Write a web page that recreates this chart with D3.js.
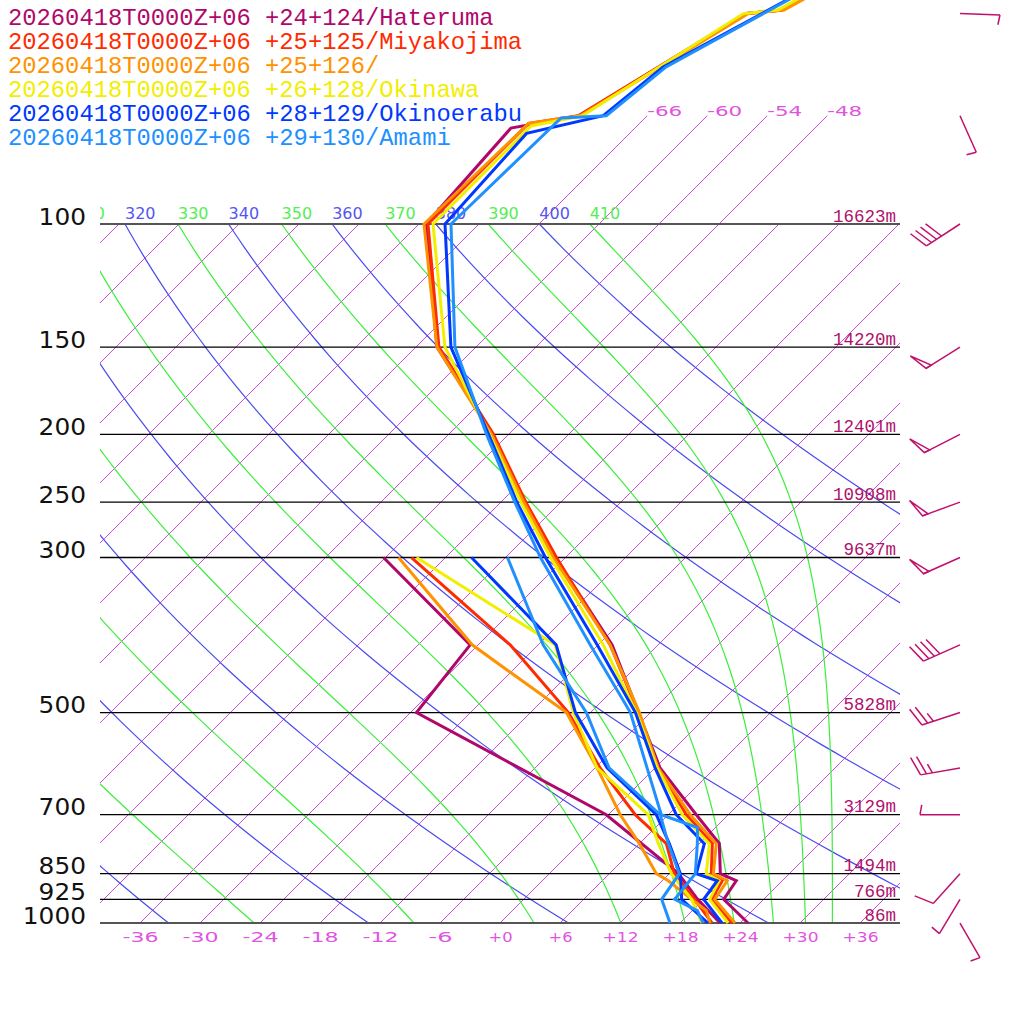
<!DOCTYPE html>
<html>
<head>
<meta charset="utf-8">
<script src="https://cdn.jsdelivr.net/npm/d3@7"></script>
<style>
  body { margin: 0; background: #fff; }
  svg { display: block; background: #fff; }
</style>
</head>
<body>
<svg id="chart" width="1024" height="1024"></svg>
<script>
// legend text, one line per station
const stationNames = [
  "20260418T0000Z+06 +24+124/Hateruma",
  "20260418T0000Z+06 +25+125/Miyakojima",
  "20260418T0000Z+06 +25+126/",
  "20260418T0000Z+06 +26+128/Okinawa",
  "20260418T0000Z+06 +28+129/Okinoerabu",
  "20260418T0000Z+06 +29+130/Amami"
];

// temperature profiles: pressure (hPa) and temperature (degC)
const hatP = [1000, 925, 870, 850, 770, 700, 600, 500, 400, 300, 250, 200, 150, 100, 72.9, 70, 50, 49.4, 30];
const hatT = [24.8, 20.0, 19.4, 17.1, 14.0, 8.8, 0.5, -7.2, -16.6, -31.0, -39.8, -49.6, -63.9, -77.3, -78.4, -72.8, -66.3, -63.1, -50.6];
const miyP = [1000, 925, 870, 850, 770, 700, 600, 500, 400, 300, 250, 200, 150, 100, 71.8, 70, 50, 49.4, 30];
const miyT = [23.2, 18.8, 18.0, 16.2, 13.3, 7.8, 0.3, -7.2, -16.8, -30.9, -39.5, -49.5, -63.7, -77.1, -77.1, -72.9, -66.3, -63.1, -50.6];
const s126P = [1000, 925, 870, 850, 770, 700, 600, 500, 400, 300, 250, 200, 150, 100, 71.8, 70, 50, 49.4, 30];
const s126T = [23.5, 19.1, 18.5, 16.4, 13.7, 8.2, 0.3, -7.1, -16.8, -31.2, -39.7, -49.7, -63.9, -77.5, -77.1, -72.7, -66.1, -62.9, -50.4];
const okiP = [1000, 925, 870, 850, 770, 700, 600, 500, 400, 300, 250, 200, 150, 100, 72.4, 70, 50, 49.4, 30];
const okiT = [22.8, 18.6, 17.7, 15.7, 13.0, 7.4, 0.2, -7.4, -17.5, -31.5, -40.0, -49.9, -63.1, -76.6, -76.6, -72.5, -66.6, -63.5, -51.0];
const oerP = [1000, 925, 870, 850, 770, 700, 600, 500, 400, 300, 250, 200, 150, 100, 74.2, 70, 59.6, 30];
const oerT = [22.2, 18.0, 17.5, 14.7, 12.5, 6.8, 0.0, -7.5, -18.1, -32.0, -40.4, -50.0, -62.5, -75.4, -76.3, -70.4, -69.3, -51.6];
const amaP = [1000, 960, 925, 850, 770, 730, 700, 600, 500, 400, 300, 250, 200, 150, 100, 70.5, 70, 59.6, 30];
const amaT = [20.3, 18.5, 15.1, 14.6, 11.8, 10.2, 5.3, -0.8, -8.0, -18.8, -32.5, -40.6, -50.2, -62.1, -74.8, -74.4, -70.1, -69.0, -51.8];

// dew point profiles
const hatTdP = [1000, 925, 850, 700, 500, 400, 300];
const hatTd = [22.0, 17.4, 12.9, -0.2, -29.4, -30.8, -48.2];
const miyTdP = [1000, 925, 850, 770, 700, 600, 500, 400, 300];
const miyTd = [21.2, 17.1, 12.5, 8.7, 2.7, -5.5, -14.2, -26.8, -45.4];
const s126TdP = [1000, 960, 925, 870, 850, 770, 700, 600, 500, 400, 300];
const s126Td = [21.0, 19.4, 16.8, 12.6, 10.7, 6.0, 1.2, -5.8, -14.4, -30.6, -46.7];
const okiTdP = [1000, 960, 925, 850, 770, 700, 600, 500, 400, 300];
const okiTd = [20.2, 18.4, 16.8, 12.2, 7.9, 4.0, -5.8, -13.7, -22.3, -44.9];
const oerTdP = [1000, 925, 850, 770, 700, 600, 500, 400, 300];
const oerTd = [20.8, 15.8, 13.1, 9.0, 4.8, -4.8, -13.5, -22.2, -39.4];
const amaTdP = [1000, 925, 850, 770, 700, 600, 500, 400, 300];
const amaTd = [17.0, 13.8, 13.0, 8.9, 5.2, -4.6, -12.4, -23.5, -35.8];

// pressure lines and their heights
const levels = [100, 150, 200, 250, 300, 500, 700, 850, 925, 1000];
const heights = [16623, 14220, 12401, 10908, 9637, 5828, 3129, 1494, 766, 86];

// wind (Hateruma): direction deg, speed kt
const windP = [1000, 925, 850, 700, 600, 500, 400, 300, 250, 200, 150, 100, 70, 50];
const windDir = [150, 211, 222, 270, 260, 252, 246, 246, 250, 243, 238, 237, 156, 92];
const windSpd = [5, 5, 10, 5, 25, 25, 40, 50, 50, 50, 50, 40, 5, 5];

// background lines
const tempTicks = d3.range(-36, 37, 6);
const isotherms = d3.range(-108, 37, 6);
const isoUpper = [-66, -60, -54, -48];
const dryThetas = d3.range(220, 401, 20);
const moistThetas = d3.range(230, 411, 20);

const stationColors = ["#b0086a", "#ff2a00", "#ff9200", "#f2ee00", "#0038ff", "#2090ff"];

const svg = d3.select("#chart");

const y = d3.scaleLog().domain([1000, 100]).range([923, 224]);
const x0 = d3.scaleLinear().domain([-40, 40]).range([100, 900]);
const sx = (t, p) => x0(t) + (y(1000) - y(p));

const pSamples = d3.range(0, 91).map(i => 1000 * Math.pow(0.1, i / 90));

function thetaE(tk, p) {
  const tc = tk - 273.15;
  const es = 6.112 * Math.exp(17.67 * tc / (tc + 243.5));
  if (es > p * 0.6) return Infinity;
  const r = 622 * es / (p - es);
  return tk * Math.pow(1000 / p, 0.2854 * (1 - 0.00028 * r)) *
    Math.exp((3.376 / tk - 0.00254) * r * (1 + 0.00081 * r));
}

function moistT(te, p) {
  let lo = 120, hi = 340;
  for (let k = 0; k < 50; k++) {
    const mid = (lo + hi) / 2;
    if (thetaE(mid, p) > te) hi = mid; else lo = mid;
  }
  return (lo + hi) / 2 - 273.15;
}

const dryT = (th, p) => th * Math.pow(p / 1000, 0.2857) - 273.15;

const defs = svg.append("defs");
defs.append("clipPath").attr("id", "plot")
  .append("rect").attr("x", 100).attr("y", 224).attr("width", 800).attr("height", 699);
defs.append("clipPath").attr("id", "labels")
  .append("rect").attr("x", 100).attr("y", 190).attr("width", 800).attr("height", 40);

const line = d3.line().x(d => sx(d.t, d.p)).y(d => y(d.p));

const bg = svg.append("g").attr("clip-path", "url(#plot)");

// isotherms
bg.selectAll("path.iso")
  .data(isotherms)
  .join("path")
  .attr("class", "iso")
  .attr("d", t => line([{p: 1000, t: t}, {p: 100, t: t}]))
  .attr("fill", "none")
  .attr("stroke", "#d24ee2")
  .attr("stroke-width", 1);

// dry adiabats
bg.selectAll("path.dry")
  .data(dryThetas)
  .join("path")
  .attr("class", "dry")
  .attr("d", th => line(pSamples.map(p => ({p: p, t: dryT(th, p)}))))
  .attr("fill", "none")
  .attr("stroke", "#4a4af0")
  .attr("stroke-width", 1.2);

// moist adiabats
bg.selectAll("path.moist")
  .data(moistThetas)
  .join("path")
  .attr("class", "moist")
  .attr("d", te => line(pSamples.map(p => ({p: p, t: moistT(te, p)}))))
  .attr("fill", "none")
  .attr("stroke", "#3cee3c")
  .attr("stroke-width", 1.2);

// upper isotherms above 100 hPa with labels
svg.selectAll("path.isoup")
  .data(isoUpper)
  .join("path")
  .attr("class", "isoup")
  .attr("d", t => line([{p: 100, t: t}, {p: 70, t: t}]))
  .attr("fill", "none")
  .attr("stroke", "#d24ee2")
  .attr("stroke-width", 1);

svg.selectAll("text.isoup")
  .data(isoUpper)
  .join("text")
  .attr("class", "isoup")
  .attr("x", t => sx(t, 70))
  .attr("y", y(70))
  .attr("font-family", "DejaVu Sans")
  .attr("font-size", 14)
  .attr("fill", "#e055e0")
  .attr("textLength", 35)
  .attr("lengthAdjust", "spacingAndGlyphs")
  .text(t => "-" + Math.abs(t));

// theta labels along 100 hPa (only those that reach the plot)
const lab = svg.append("g").attr("clip-path", "url(#labels)");
lab.selectAll("text.dry")
  .data(dryThetas.filter(th => sx(dryT(th, 100), 100) > 70))
  .join("text")
  .attr("class", "dry")
  .attr("x", th => sx(dryT(th, 100), 100))
  .attr("y", 218.5)
  .attr("font-family", "DejaVu Sans")
  .attr("font-size", 16)
  .attr("fill", "#5555f0")
  .text(th => th);
lab.selectAll("text.moist")
  .data(moistThetas.filter(te => sx(moistT(te, 100), 100) > 70))
  .join("text")
  .attr("class", "moist")
  .attr("x", te => sx(moistT(te, 100), 100))
  .attr("y", 218.5)
  .attr("font-family", "DejaVu Sans")
  .attr("font-size", 16)
  .attr("fill", "#55ee55")
  .text(te => te);

// pressure lines
svg.selectAll("line.level")
  .data(levels)
  .join("line")
  .attr("class", "level")
  .attr("x1", 100).attr("x2", 900)
  .attr("y1", p => y(p)).attr("y2", p => y(p))
  .attr("stroke", p => (p === 100 || p === 1000) ? "#555" : "#000")
  .attr("stroke-width", p => (p === 100 || p === 1000) ? 2 : 1.3);

// pressure labels
const pAxis = svg.append("g")
  .attr("transform", "translate(86,0)")
  .call(d3.axisLeft(y).tickValues(levels).tickSize(0).tickPadding(0).tickFormat(d3.format("d")));
pAxis.select(".domain").remove();
pAxis.selectAll("text")
  .attr("dy", 0)
  .attr("font-family", "DejaVu Sans")
  .attr("font-size", 23)
  .attr("fill", "#111")
  .attr("textLength", p => 15.8 * String(p).length)
  .attr("lengthAdjust", "spacingAndGlyphs");

// temperature labels at the bottom
const tAxis = svg.append("g")
  .attr("transform", "translate(0,923)")
  .call(d3.axisBottom(x0).tickValues(tempTicks).tickSize(0)
    .tickFormat(t => (t >= 0 ? "+" : "-") + Math.abs(t)));
tAxis.select(".domain").remove();
tAxis.selectAll("text")
  .attr("y", 19)
  .attr("dy", 0)
  .attr("font-family", "DejaVu Sans")
  .attr("font-size", 14)
  .attr("fill", "#e055e0")
  .attr("textLength", t => 12 * ((t >= 0 ? "+" : "-") + Math.abs(t)).length)
  .attr("lengthAdjust", "spacingAndGlyphs");

// height labels
svg.selectAll("text.height")
  .data(levels)
  .join("text")
  .attr("class", "height")
  .attr("x", 896)
  .attr("y", p => y(p) - 2.5)
  .attr("text-anchor", "end")
  .attr("font-family", "Liberation Mono")
  .attr("font-size", 17.5)
  .attr("fill", "#b0106a")
  .text((p, i) => heights[i] + "m");

// soundings
const tempP = [hatP, miyP, s126P, okiP, oerP, amaP];
const tempT = [hatT, miyT, s126T, okiT, oerT, amaT];
const dewP = [hatTdP, miyTdP, s126TdP, okiTdP, oerTdP, amaTdP];
const dewT = [hatTd, miyTd, s126Td, okiTd, oerTd, amaTd];

const snd = svg.append("g");
stationNames.forEach((name, i) => {
  const tProf = tempP[i].map((p, j) => ({p: p, t: tempT[i][j]}));
  const dProf = dewP[i].map((p, j) => ({p: p, t: dewT[i][j]}));
  [tProf, dProf].forEach(prof => {
    snd.append("path")
      .attr("d", line(prof))
      .attr("fill", "none")
      .attr("stroke", stationColors[i])
      .attr("stroke-width", 3)
      .attr("stroke-linejoin", "miter");
  });
});

// legend
svg.selectAll("text.legend")
  .data(stationNames)
  .join("text")
  .attr("class", "legend")
  .attr("x", 8)
  .attr("y", (d, i) => 25 + 24 * i)
  .attr("font-family", "Liberation Mono")
  .attr("font-size", 23.8)
  .attr("fill", (d, i) => stationColors[i])
  .text(d => d);

// wind barbs
const barbs = svg.append("g")
  .attr("stroke", "#c0106c")
  .attr("stroke-width", 1.5)
  .attr("fill", "none");

function drawBarb(cx, cy, dir, spd) {
  const a = dir * Math.PI / 180;
  const ux = Math.sin(a), uy = -Math.cos(a);
  const L = 40;
  const ex = cx + ux * L, ey = cy + uy * L;
  barbs.append("line").attr("x1", cx).attr("y1", cy).attr("x2", ex).attr("y2", ey);

  const base = Math.atan2(uy, ux);
  const n50 = Math.floor(spd / 50);
  const n10 = Math.floor((spd - 50 * n50) / 10);
  const n5 = Math.round((spd - 50 * n50 - 10 * n10) / 5);
  const rot = (n50 + n10 === 0) ? 100 : 70;
  const fa = base + rot * Math.PI / 180;
  const fx = Math.cos(fa), fy = Math.sin(fa);
  const at = d => [ex - ux * d, ey - uy * d];

  let pos = 0;
  for (let k = 0; k < n50; k++) {
    const [bx, by] = at(pos);
    const [cx2, cy2] = at(pos + 6);
    barbs.append("path")
      .attr("d", `M${bx},${by}L${bx + fx * 20},${by + fy * 20}L${cx2},${cy2}Z`);
    pos += 8;
  }
  for (let k = 0; k < n10; k++) {
    const [bx, by] = at(pos);
    barbs.append("line").attr("x1", bx).attr("y1", by)
      .attr("x2", bx + fx * 20).attr("y2", by + fy * 20);
    pos += 6;
  }
  for (let k = 0; k < n5; k++) {
    const [bx, by] = at(pos);
    barbs.append("line").attr("x1", bx).attr("y1", by)
      .attr("x2", bx + fx * 10).attr("y2", by + fy * 10);
    pos += 6;
  }
}

windP.forEach((p, i) => drawBarb(960, y(p), windDir[i], windSpd[i]));
</script>
</body>
</html>
